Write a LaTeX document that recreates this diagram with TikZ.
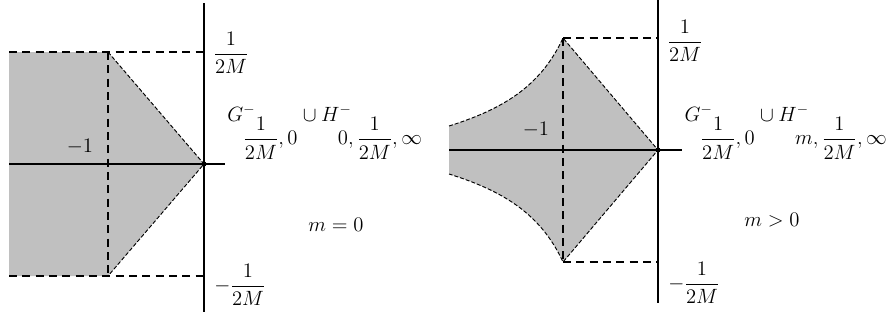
\RequirePackage{fix-cm}
\documentclass[tikz,border=0pt]{standalone}
\usepackage{amsmath}
\usepackage{xcolor}
\usetikzlibrary{positioning}
\definecolor{shade}{RGB}{192,192,192}
\newcommand{\halfM}{\dfrac{1}{2M}}
\newcommand{\lowset}[1]{{\displaystyle #1}}

\begin{document}
\begin{tikzpicture}[x=0.75pt, y=-0.75pt,
      every node/.style={font=\fontsize{15.5}{18}\selectfont, inner sep=0pt},
      axis/.style={draw=black, line width=1.1pt},
      guide/.style={draw=black, line width=0.9pt, dash pattern=on 6pt off 4pt},
      rim/.style={draw=black, line width=0.7pt, dash pattern=on 3pt off 1.5pt},
      region/.style={fill=shade}]
    \useasboundingbox (0,0) rectangle (887,326);

    % left panel, m = 0
    \coordinate (lo) at (204,164);
    \coordinate (ltl) at (108,52);
    \coordinate (lbl) at (108,276);
    \fill[region] (9,52) -- (ltl) -- (lo) -- (lbl) -- (9,276) -- cycle;
    \draw[guide] (9,52) -- (204,52);
    \draw[guide] (9,276) -- (204,276);
    \draw[guide] (ltl) -- (lbl);
    \draw[rim] (ltl) -- (lo) -- (lbl);
    \draw[axis] (9,164) -- (225,164);
    \draw[axis] (204,3) -- (204,312);
    \fill (lo) circle (2.5);
    \node (ltop) at (231,53) {$\halfM$};
    \node (lbot) at (240,285) {$-\halfM$};
    \node (lone) at (80,147) {$-1$};
    \node (lset) at (325,132) {$G^{-}_{\lowset{\halfM,0}}\cup H^{-}_{\lowset{0,\halfM,\infty}}$};
    \node (lcase) at (336,225) {$m=0$};

    % right panel, m > 0
    \coordinate (ro) at (658,150);
    \coordinate (rtl) at (563,38);
    \coordinate (rbl) at (563,262);
    \fill[region] (449,126) .. controls (500,110) and (540,88) .. (rtl) -- (ro)
        -- (rbl) .. controls (540,212) and (500,190) .. (449,174) -- cycle;
    \draw[guide] (rtl) -- (658,38);
    \draw[guide] (rbl) -- (658,262);
    \draw[guide] (rtl) -- (rbl);
    \draw[rim] (449,126) .. controls (500,110) and (540,88) .. (rtl) -- (ro)
        -- (rbl) .. controls (540,212) and (500,190) .. (449,174);
    \draw[axis] (449,150) -- (682,150);
    \draw[axis] (658,0) -- (658,303);
    \fill (ro) circle (2.5);
    \node (rtop) at (685,41) {$\halfM$};
    \node (rbot) at (694,283) {$-\halfM$};
    \node (rone) at (536,130) {$-1$};
    \node (rset) at (786,132) {$G^{-}_{\lowset{\halfM,0}}\cup H^{-}_{\lowset{m,\halfM,\infty}}$};
    \node (rcase) at (772,220) {$m>0$};
\end{tikzpicture}
\end{document}
